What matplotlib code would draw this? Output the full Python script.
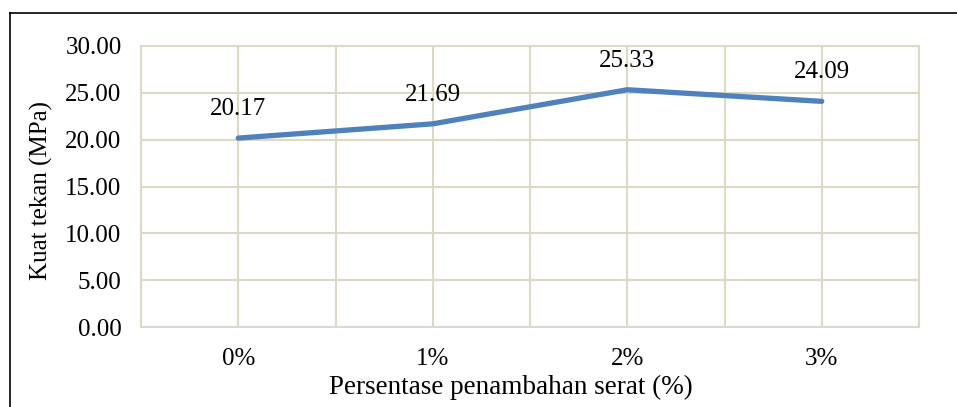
import matplotlib.pyplot as plt
from matplotlib.lines import Line2D

# data
categories = ['0%', '1%', '2%', '3%']
kuat_tekan = [20.17, 21.69, 25.33, 24.09]
y_ticks = [0, 5, 10, 15, 20, 25, 30]

plt.rcParams['font.family'] = ['Liberation Serif', 'DejaVu Serif']

W, H = 957, 407
fig = plt.figure(figsize=(W / 100, H / 100), dpi=100)
ax = fig.add_axes([141 / W, 1 - 327 / H, (919 - 141) / W, (327 - 46) / H])

x = list(range(len(categories)))
ax.plot(x, kuat_tekan, color='#4F81BD', linewidth=3.8, solid_capstyle='round', zorder=3)

for xi, v in zip(x, kuat_tekan):
    ax.annotate(f'{v:.2f}', (xi, v), xytext=(0, 21), textcoords='offset points',
                ha='center', va='center', fontsize=18, color='#000000')

ax.set_xlim(-0.5, len(categories) - 0.5)
ax.set_ylim(0, 30)
ax.set_yticks(y_ticks)
ax.set_yticklabels([f'{t:.2f}' for t in y_ticks])
ax.set_xticks(x)
ax.set_xticklabels(categories)
ax.set_xticks([i - 0.5 for i in range(len(categories) + 1)], minor=True)

grid_col = '#DDD9C3'
ax.grid(True, which='both', axis='x', color=grid_col, linewidth=1.5, zorder=0)
ax.grid(True, which='major', axis='y', color=grid_col, linewidth=1.5, zorder=0)
for s in ['top', 'right', 'left']:
    ax.spines[s].set_color(grid_col)
    ax.spines[s].set_linewidth(1.5)
ax.spines['bottom'].set_color('#D9D9D9')
ax.spines['bottom'].set_linewidth(1.5)

ax.tick_params(axis='both', which='both', length=0, labelsize=18)
ax.tick_params(axis='x', pad=15)
ax.tick_params(axis='y', pad=14)

ax.set_xlabel('Persentase penambahan serat (%)', fontsize=19.5)
ax.xaxis.set_label_coords((511 - 141) / 778, -(387 - 327) / 281)
ax.xaxis.label.set_va('center')
ax.set_ylabel('Kuat tekan (MPa)', fontsize=18)
ax.yaxis.set_label_coords(-(141 - 41) / 778, (327 - 190) / 281)
ax.yaxis.label.set_va('center')

# figure frame (only left and top edges visible in the crop)
fig.add_artist(Line2D([9.5 / W, 9.5 / W], [0, 1 - 12.5 / H], color='black', linewidth=1.2, transform=fig.transFigure))
fig.add_artist(Line2D([9.5 / W, 1], [1 - 12.5 / H, 1 - 12.5 / H], color='black', linewidth=1.2, transform=fig.transFigure))

fig.savefig('out.png', dpi=100)
